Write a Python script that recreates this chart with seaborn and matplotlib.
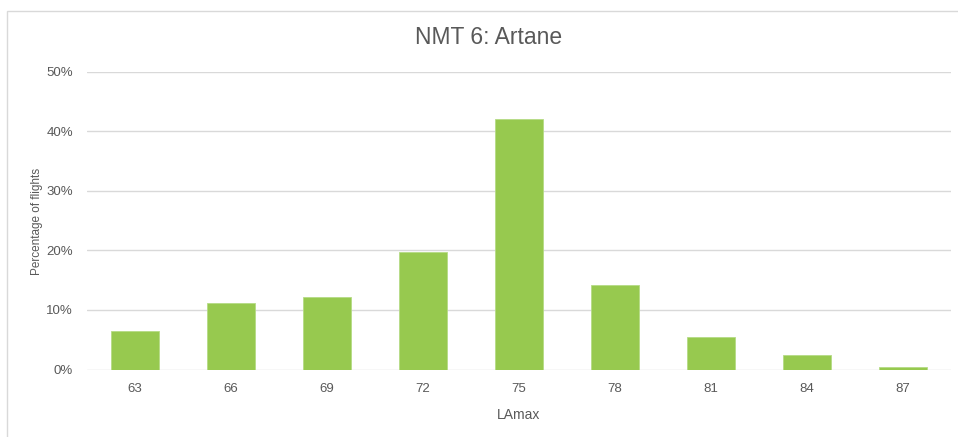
import matplotlib
matplotlib.use("Agg")
import matplotlib.pyplot as plt
from matplotlib.patches import Rectangle
from matplotlib.ticker import PercentFormatter
import seaborn as sns
import pandas as pd

# LAmax bins (dB) and share of flights in each bin
lamax_bins = ["63", "66", "69", "72", "75", "78", "81", "84", "87"]
pct_flights = [6.4, 11.2, 12.1, 19.7, 42.0, 14.2, 5.4, 2.4, 0.5]
y_ticks = [0, 10, 20, 30, 40, 50]

df = pd.DataFrame({"LAmax": lamax_bins, "pct": pct_flights})

sns.set_theme(style="white")
plt.rcParams["font.family"] = ["Liberation Sans", "DejaVu Sans"]

text_col = "#595959"
bar_col = "#97C94F"
grid_col = "#D9D9D9"

W, H = 958, 437
fig = plt.figure(figsize=(W / 100, H / 100), dpi=100)
ax = fig.add_axes([87 / W, 1 - 369.5 / H, (951 - 87) / W, (369.5 - 71.5) / H])

sns.barplot(data=df, x="LAmax", y="pct", color=bar_col, width=0.51,
            saturation=1, edgecolor="#B5DB85", linewidth=0.6, ax=ax, zorder=3)

ax.set_ylim(0, 50)
ax.set_yticks(y_ticks)
ax.yaxis.set_major_formatter(PercentFormatter(decimals=0))
ax.set_xlim(-0.5, len(lamax_bins) - 0.5)

ax.grid(axis="y", color=grid_col, linewidth=1.0, zorder=0)
ax.grid(axis="x", visible=False)
for s in ax.spines.values():
    s.set_visible(False)

ax.tick_params(axis="both", length=0, colors=text_col, labelsize=9.5)
ax.tick_params(axis="y", pad=10)
ax.tick_params(axis="x", pad=10)

ax.set_xlabel("LAmax", color=text_col, fontsize=10, labelpad=9)
ax.set_ylabel("")

fig.text(37 / W, 1 - 221 / H, "Percentage of flights", rotation=90,
         ha="center", va="center", fontsize=8.5, color=text_col)

fig.text(489 / W, 1 - 38 / H, "NMT 6: Artane",
         ha="center", va="center", fontsize=16.5, color=text_col)

# chart-area frame
fig.patches.append(Rectangle((7 / W, -0.1), 1.2, 1 - 11 / H + 0.1,
                             transform=fig.transFigure, fill=False,
                             edgecolor="#D9D9D9", linewidth=1.0))

fig.savefig("out.png", dpi=100, facecolor="white")
